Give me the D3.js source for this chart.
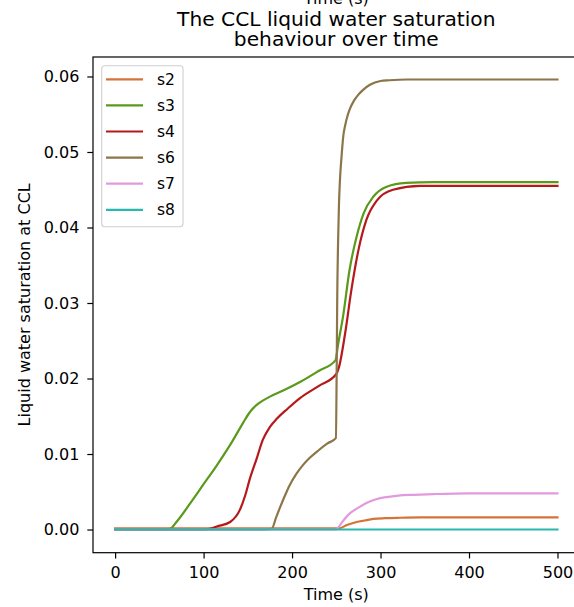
<!DOCTYPE html>
<html>
<head>
<meta charset="utf-8">
<script src="https://cdn.jsdelivr.net/npm/d3@7"></script>
<style>
  html, body { margin: 0; padding: 0; background: #fff; }
  svg { display: block; font-family: "DejaVu Sans", sans-serif; }
</style>
</head>
<body>
<div id="chart"></div>
<script>
// ---- Data ----
const seriesNames = ["s2", "s3", "s4", "s6", "s7", "s8"];
const seriesColors = ["#d4733a", "#5a9a1b", "#b5191b", "#8c7548", "#e29ade", "#2ab7ad"];

const s2T = [0, 100, 200, 250, 254, 262, 273, 282, 292, 305, 322, 345, 380, 500];
const s2V = [0.00015, 0.00015, 0.00015, 0.00015, 0.00018, 0.0006, 0.001, 0.0012, 0.0014, 0.0015, 0.00156, 0.0016, 0.0016, 0.0016];

const s3T = [0, 55, 62, 70, 85, 100, 115, 130, 145, 152, 160, 166, 175, 190, 210, 230, 249, 252, 258, 265, 273, 281, 292, 307, 329, 360, 500];
const s3V = [0, 0, 0.0001, 0.0011, 0.0035, 0.006, 0.0085, 0.0112, 0.0142, 0.0155, 0.0165, 0.017, 0.0176, 0.0184, 0.0196, 0.021, 0.0224, 0.0245, 0.0285, 0.0344, 0.0388, 0.0419, 0.0441, 0.0454, 0.0459, 0.046, 0.046];

const s4T = [0, 100, 107, 115, 130, 141, 147, 152, 160, 167, 175, 183, 195, 209, 230, 250, 253, 260, 267, 275, 284, 296, 314, 345, 500];
const s4V = [0, 0, 0.0001, 0.0004, 0.001, 0.0026, 0.0045, 0.0066, 0.0094, 0.0119, 0.0136, 0.0147, 0.016, 0.0174, 0.019, 0.0206, 0.0215, 0.026, 0.0317, 0.037, 0.041, 0.0436, 0.045, 0.0455, 0.0455];

const s6T = [0, 170, 177, 182, 187, 192, 197, 205, 212, 220, 230, 240, 249.5, 250.5, 251, 252, 253, 254, 256, 258, 260, 262, 265, 270, 275, 280, 288, 300, 310, 330, 500];
const s6V = [0, 0, 0.0001, 0.0016, 0.0031, 0.0045, 0.0058, 0.0074, 0.0085, 0.0095, 0.0105, 0.0114, 0.0121, 0.022, 0.03, 0.038, 0.043, 0.046, 0.0495, 0.0522, 0.0535, 0.0545, 0.0556, 0.0568, 0.0576, 0.0582, 0.0589, 0.0594, 0.0595, 0.0596, 0.0596];

const s7T = [0, 250, 251, 258, 265, 275, 284, 295, 307, 320, 337, 360, 400, 500];
const s7V = [0, 0, 0.0001, 0.0012, 0.0021, 0.0029, 0.0035, 0.004, 0.0043, 0.0045, 0.0046, 0.0047, 0.0048, 0.0048];

const s8T = [0, 500];
const s8V = [0, 0];

const xTicks = [0, 100, 200, 300, 400, 500];
const yTicks = [0, 0.01, 0.02, 0.03, 0.04, 0.05, 0.06];

const titleLines = ["The CCL liquid water saturation", "behaviour over time"];
const xLabel = "Time (s)";
const yLabel = "Liquid water saturation at CCL";

// ---- Layout ----
const W = 574, H = 607;
const L = 93, R = 579.6, T = 57, B = 552.7;

const svg = d3.select("#chart").append("svg").attr("width", W).attr("height", H);

const x = d3.scaleLinear().domain([-25, 525]).range([L, R]);
const y = d3.scaleLinear().domain([-0.00307, 0.06258]).range([B, T]);

const allT = [s2T, s3T, s4T, s6T, s7T, s8T];
const allV = [s2V, s3V, s4V, s6V, s7V, s8V];
const series = seriesNames.map((n, i) => ({
  name: n, color: seriesColors[i],
  pts: allT[i].map((t, j) => [t, allV[i][j]])
}));

svg.append("clipPath").attr("id", "clip").append("rect")
  .attr("x", L).attr("y", T).attr("width", R - L).attr("height", B - T);

const line = d3.line().x(d => x(d[0])).y(d => y(d[1])).curve(d3.curveMonotoneX);

const g = svg.append("g").attr("clip-path", "url(#clip)");
series.forEach(s => {
  g.append("path").datum(s.pts)
    .attr("d", line)
    .attr("fill", "none")
    .attr("stroke", s.color)
    .attr("stroke-width", 2.2)
    .attr("stroke-linejoin", "round")
    .attr("stroke-linecap", "square");
});

// axes
const fs = 16;
const xAxis = d3.axisBottom(x).tickValues(xTicks).tickFormat(d3.format("d")).tickSize(5.7).tickPadding(8.6);
const gx = svg.append("g").attr("transform", `translate(0,${B})`).call(xAxis);
const yAxis = d3.axisLeft(y).tickValues(yTicks).tickFormat(d3.format(".2f")).tickSize(5.7).tickPadding(8);
const gy = svg.append("g").attr("transform", `translate(${L},0)`).call(yAxis);
[gx, gy].forEach(a => {
  a.select(".domain").remove();
  a.selectAll(".tick line").attr("stroke", "#000").attr("stroke-width", 1.2);
  a.selectAll(".tick text").attr("font-size", fs).attr("fill", "#000").attr("font-family", "DejaVu Sans");
});

// spines
svg.append("rect").attr("x", L).attr("y", T).attr("width", R - L).attr("height", B - T)
  .attr("fill", "none").attr("stroke", "#000").attr("stroke-width", 1.2);

// labels
svg.append("text").attr("x", (L + R) / 2).attr("y", 600).attr("text-anchor", "middle")
  .attr("font-size", fs).text(xLabel);
svg.append("text").attr("transform", `translate(29.5,${(T + B) / 2}) rotate(-90)`)
  .attr("text-anchor", "middle").attr("font-size", fs).text(yLabel);

// cut-off label of a plot above (as in the reference)
svg.append("text").attr("x", (L + R) / 2).attr("y", 3.5).attr("text-anchor", "middle")
  .attr("font-size", fs).text(xLabel);

// title
titleLines.forEach((t, i) => {
  svg.append("text").attr("x", (L + R) / 2).attr("y", 25.5 + i * 20.5)
    .attr("text-anchor", "middle").attr("font-size", 20.2).text(t);
});

// legend
const lg = svg.append("g");
lg.append("rect").attr("x", 101.7).attr("y", 65.7).attr("width", 81.3).attr("height", 161)
  .attr("rx", 3).attr("fill", "#fff").attr("fill-opacity", 0.8)
  .attr("stroke", "#d0d0d0").attr("stroke-width", 1.1);
series.forEach((s, i) => {
  const yy = 79.3 + i * 26.1;
  lg.append("line").attr("x1", 106).attr("x2", 143).attr("y1", yy).attr("y2", yy)
    .attr("stroke", s.color).attr("stroke-width", 2.2);
  lg.append("text").attr("x", 157).attr("y", yy).attr("dy", "0.35em")
    .attr("font-size", 15.5).text(s.name);
});
</script>
</body>
</html>
